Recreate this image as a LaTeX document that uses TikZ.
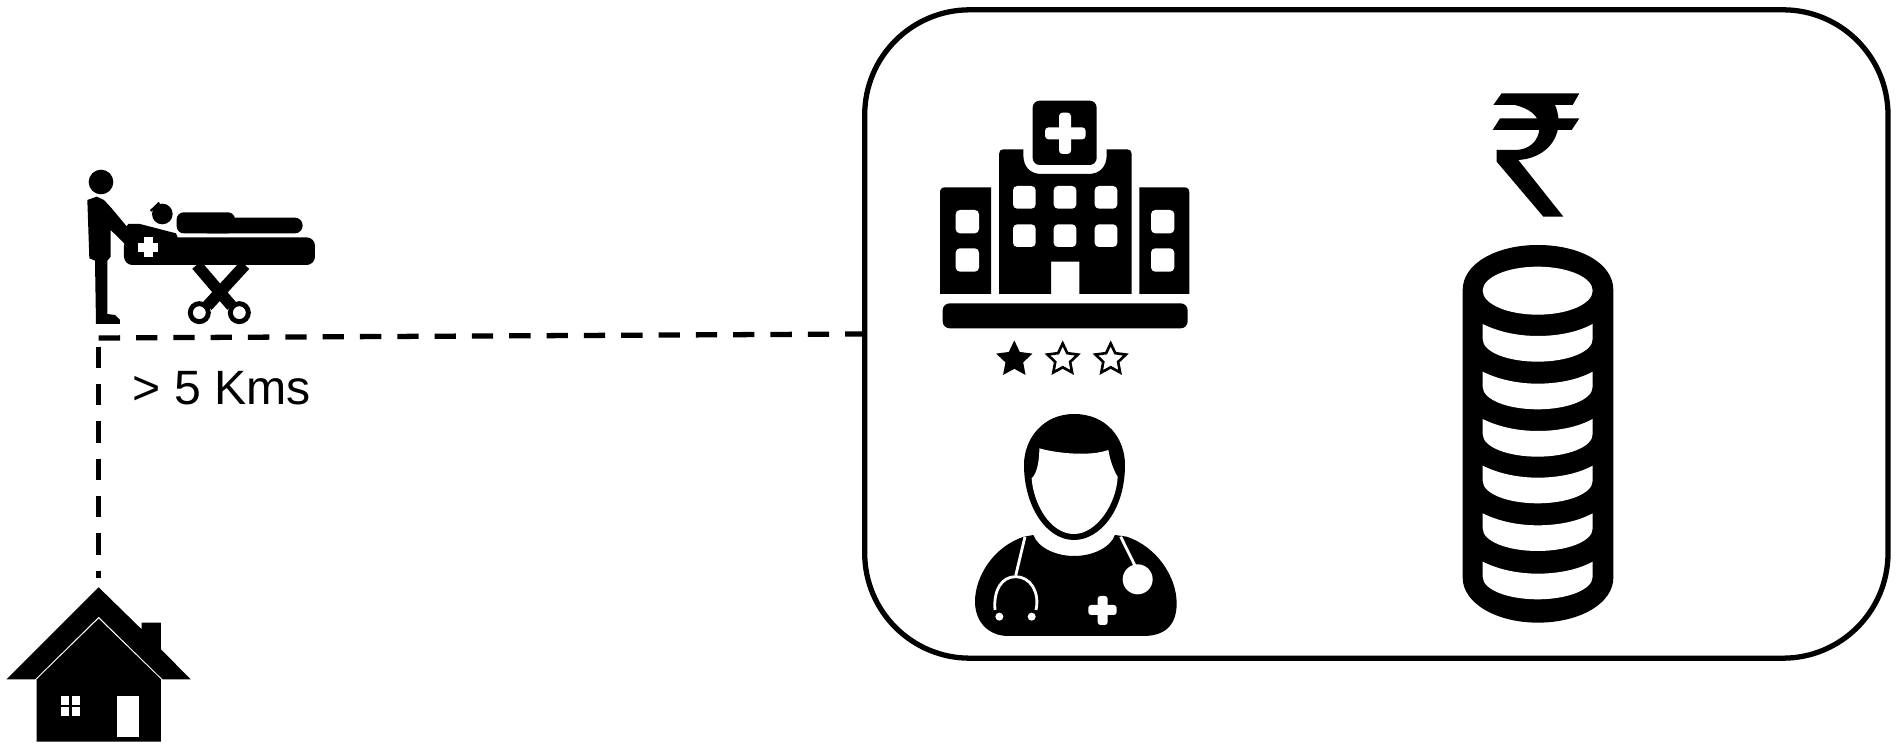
\documentclass[tikz,border=0pt]{standalone}
\usepackage{fontspec}
\setmainfont{Liberation Sans}
\usetikzlibrary{positioning,shapes.geometric}
\tikzset{
  panel/.style={draw=black, line width=1.5pt, rounded corners=1.05cm, inner sep=0pt, outer sep=0pt, minimum width=10.227cm, minimum height=6.48cm},
  dashline/.style={draw=black, line width=1.5pt, dash pattern=on .213cm off .16cm},
  distlabel/.style={font=\fontsize{13.7}{16}\selectfont, text=black, inner sep=0pt},
  inkfill/.style={fill=black},
  hole/.style={fill=white},
  tube/.style={draw=white, line width=.8pt},
  starbase/.style={star, star points=5, star point ratio=2.05, inner sep=0pt, minimum size=.32cm, draw=black, line width=.75pt},
}
\begin{document}
\begin{tikzpicture}[x=.01cm, y=-.01cm]
  \useasboundingbox (0,0) rectangle (1896,743);
  \node[panel] (costpanel) at (1376.35,334) {};
  \coordinate (corner) at (98.7,338);
  \coordinate (dropstart) at (98.7,346.7);
  \coordinate (hometop) at (98.7,578);
  \draw[dashline] (corner) -- (costpanel.west);
  \draw[dashline] (dropstart) -- (hometop);
  \node[distlabel, anchor=base west] (distance) at (132,405) {> 5 Kms};

  % stretcher
  \begin{scope}[shift={(0,150)}, scale=1/3]
    \fill[inkfill] (303,96) circle[radius=37];
    \fill[inkfill] (262,150) -- (290,140) -- (312,150) -- (335,175) -- (385,235) -- (378,285) -- (332,240) -- (332,320) -- (322,332) -- (322,492) -- (345,495) -- (360,510) -- (360,522) -- (288,522) -- (285,332) -- (268,325) -- cycle;
    \fill[inkfill, rounded corners=2.4pt] (372,262) rectangle (945,345);
    \fill[inkfill] (372,280) -- (372,240) -- (385,222) -- (420,222) -- (528,250) -- (540,280) -- cycle;
    \fill[inkfill] (487,192) circle[radius=31];
    \draw[black, line width=.6pt] (452,183) -- (478,158);
    \fill[inkfill, rounded corners=2pt] (530,187) rectangle (705,250);
    \fill[inkfill, rounded corners=2.2pt] (600,203) rectangle (908,250);
    \fill[hole] (415,280) rectangle (475,305);
    \fill[hole] (432,262) rectangle (458,320);
    \draw[black, line width=3.3pt] (590,345) -- (695,468);
    \draw[black, line width=3.3pt] (735,345) -- (622,468);
    \draw[black, line width=1.4pt, fill=white] (598,488) circle[radius=27];
    \draw[black, line width=1.4pt, fill=white] (718,488) circle[radius=27];
  \end{scope}

  % house
  \begin{scope}[shift={(0,560)}, scale=1/3]
    \fill[inkfill] (296,82) -- (425,208) -- (425,188) -- (483,188) -- (483,268) -- (572,358) -- (488,358) -- (296,170) -- (105,358) -- (20,358) -- cycle;
    \fill[inkfill] (296,176) -- (483,358) -- (483,545) -- (110,545) -- (110,358) -- cycle;
    \fill[hole] (182,408) rectangle (240,468);
    \draw[black, line width=.8pt] (211,408) -- (211,468);
    \draw[black, line width=.8pt] (182,438) -- (240,438);
    \fill[hole] (350,408) rectangle (418,530);
  \end{scope}

  % hospital
  \begin{scope}[shift={(920,80)}, scale=1/3]
    \fill[inkfill, rounded corners=2pt] (338,62) rectangle (530,255);
    \fill[hole, rounded corners=1pt] (375,142) rectangle (497,178);
    \fill[hole, rounded corners=1pt] (417,98) rectangle (453,222);
    \fill[inkfill] (250,208) -- (310,208) -- (310,225) .. controls (310,260) and (330,282) .. (365,282) -- (505,282) .. controls (540,282) and (560,260) .. (560,225) -- (560,208) -- (622,208) .. controls (630,208) and (635,213) .. (635,222) -- (635,642) -- (478,642) -- (478,545) -- (393,545) -- (393,642) -- (237,642) -- (237,222) .. controls (237,213) and (242,208) .. (250,208) -- cycle;
    \fill[inkfill] (213,642) -- (213,322) -- (75,322) .. controls (65,322) and (60,328) .. (60,338) -- (60,642) -- cycle;
    \fill[inkfill] (658,642) -- (658,322) -- (793,322) .. controls (803,322) and (808,328) .. (808,338) -- (808,642) -- cycle;
    \fill[inkfill, rounded corners=2pt] (68,670) rectangle (803,745);
    \foreach \wx in {313,435,558} \foreach \wy in {352,467}
      \fill[hole, rounded corners=1.2pt] (\wx-34,\wy-34) rectangle (\wx+34,\wy+34);
    \foreach \wx in {142,728} \foreach \wy in {425,540}
      \fill[hole, rounded corners=1.2pt] (\wx-35,\wy-35) rectangle (\wx+35,\wy+35);
  \end{scope}
  \node[starbase, fill=black] (star1) at (1014.3,359.5) {};
  \node[starbase, fill=white] (star2) at (1062.7,359.5) {};
  \node[starbase, fill=white] (star3) at (1110.7,359.5) {};

  % doctor
  \begin{scope}[shift={(950,400)}, scale=1/3]
    \fill[inkfill] (372,42) .. controls (470,42) and (525,115) .. (525,195) .. controls (525,330) and (450,420) .. (372,420) .. controls (290,420) and (222,320) .. (222,195) .. controls (222,115) and (280,42) .. (372,42) -- cycle;
    \fill[hole] (268,145) .. controls (320,160) and (420,170) .. (475,150) .. controls (480,180) and (490,210) .. (503,230) .. controls (500,310) and (440,402) .. (372,402) .. controls (300,402) and (250,310) .. (245,235) .. controls (262,220) and (268,180) .. (268,145) -- cycle;
    \fill[inkfill] (250,405) .. controls (265,445) and (320,468) .. (372,468) .. controls (425,468) and (480,445) .. (495,405) -- (530,410) .. controls (620,440) and (680,530) .. (680,610) .. controls (680,680) and (640,708) .. (580,708) -- (175,708) .. controls (115,708) and (75,665) .. (75,605) .. controls (75,530) and (130,440) .. (222,410) -- cycle;
    \draw[tube] (225,410) -- (197,527);
    \draw[tube] (135,630) .. controls (130,570) and (155,530) .. (197,530) .. controls (240,530) and (270,575) .. (258,630);
    \fill[hole] (148,650) circle[radius=12];
    \fill[hole] (245,650) circle[radius=12];
    \draw[tube] (512,410) -- (555,497);
    \fill[hole] (563,538) circle[radius=45];
    \fill[hole, rounded corners=.8pt] (415,615) rectangle (500,645);
    \fill[hole, rounded corners=.8pt] (443,588) rectangle (473,675);
  \end{scope}

  % rupee
  \begin{scope}[shift={(1440,70)}, scale=1/3]
    \fill[inkfill] (160,105) -- (185,70) -- (418,70) -- (398,105) -- cycle;
    \fill[inkfill] (158,180) -- (180,145) -- (418,145) -- (395,180) -- cycle;
    \fill[inkfill] (225,105) .. controls (265,115) and (298,135) .. (298,172) .. controls (298,215) and (265,240) .. (225,240) -- (170,240) -- (170,275) -- (310,440) -- (370,440) -- (235,270) .. controls (310,265) and (358,215) .. (356,150) .. controls (354,130) and (350,115) .. (345,105) -- cycle;
  \end{scope}

  % coins
  \begin{scope}[shift={(1440,230)}, scale=1/3]
    \fill[inkfill] (68,180) .. controls (68,100) and (170,45) .. (293,45) .. controls (420,45) and (520,100) .. (520,180) -- (520,1043) .. controls (520,1120) and (420,1178) .. (293,1178) .. controls (170,1178) and (68,1120) .. (68,1043) -- cycle;
    \fill[hole] (293,182) ellipse[x radius=165, y radius=72];
    \foreach \cy in {282,425,567,707,850,995}
      \fill[hole] (128,\cy) .. controls (180,\cy+26) and (240,\cy+36) .. (293,\cy+36) .. controls (350,\cy+36) and (410,\cy+26) .. (458,\cy) -- (458,\cy+45) .. controls (458,\cy+85) and (380,\cy+113) .. (293,\cy+113) .. controls (205,\cy+113) and (128,\cy+85) .. (128,\cy+45) -- cycle;
  \end{scope}
\end{tikzpicture}
\end{document}
